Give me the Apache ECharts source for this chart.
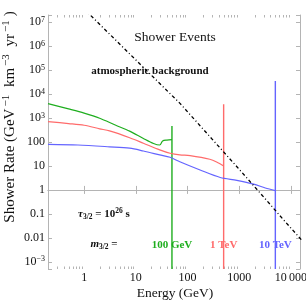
<!DOCTYPE html>
<html><head><meta charset="utf-8">
<script src="https://cdn.jsdelivr.net/npm/echarts@6/dist/echarts.min.js"></script>
<style>html,body{margin:0;padding:0;background:#fff}#c{width:306px;height:303px}</style>
</head><body><div id="c"></div>
<script>
// ---- data ----
const energyGreen = [0.2, 0.5, 1, 2, 4, 7.6, 14, 22, 29, 33, 40, 50];
const rateGreen   = [4000, 2400, 1600, 980, 510, 285, 141, 87, 75, 110, 120, 125];
const energyRed = [0.2, 0.5, 1, 2, 3.1, 7.6, 14, 29, 46, 71, 112, 270, 380, 500];
const rateRed   = [710, 590, 500, 355, 290, 151, 89, 47, 34, 29, 27, 19, 14, 10];
const energyBlue = [0.2, 0.76, 3.1, 7.6, 14, 29, 46, 71, 175, 430, 900, 1900, 3200, 5000];
const rateBlue   = [80, 75, 63, 55, 42, 29, 23, 15, 6.8, 3.3, 2.5, 1.74, 1.2, 0.93];
const energyBg = [1, 1.28, 9.6, 71.5, 902, 3990, 6760, 18200];
const rateBg   = [3.6e7, 2.1e7, 2.9e5, 4100, 9.3, 0.245, 0.066, 0.006];
const cutoffEnergies = [50, 500, 5000];
const cutoffTops = [470, 3800, 35000];
const cutoffColors = ['#1fae1f', '#ff6b6b', '#6464ff'];
const massLabels = ['100 GeV', '1 TeV', '10 TeV'];
const xTickValues = [1, 10, 100, 1000, 10000];
const xTickLabels = ['1', '10', '100', '1000', '10\u2009000'];
const yTickValues = [1e-3, 0.01, 0.1, 1, 10, 100, 1e3, 1e4, 1e5, 1e6, 1e7];
const yTickLabels = ['10{sup|\u22123}', '0.01', '0.1', '1', '10', '100', '10{sup|3}', '10{sup|4}', '10{sup|5}', '10{sup|6}', '10{sup|7}'];
const xRange = [0.2, 15000];
const yRange = [5e-4, 2e7];

const FONT = 'Liberation Serif';
const FRAME = '#b4b4b4';

function lookup(vals, labels, v) {
  const lv = Math.log10(v);
  for (let i = 0; i < vals.length; i++) if (Math.abs(Math.log10(vals[i]) - lv) < 1e-6) return labels[i];
  return '';
}
// y values are placed on a decade (log10) value axis
const ly = v => Math.log10(v);
const zip = (a, b) => a.map((v, i) => [v, ly(b[i])]);

const chart = echarts.init(document.getElementById('c'), null, {renderer: 'canvas'});

const minorX = [];
for (let k = -1; k <= 4; k++) for (let m = 2; m <= 9; m++) {
  const v = m * Math.pow(10, k);
  if (v > xRange[0] && v < xRange[1]) minorX.push([v, 0]);
}

const baseX = {
  type: 'log', logBase: 10, min: xRange[0], max: xRange[1], splitNumber: 5,
  axisLine: {show: true, lineStyle: {color: FRAME, width: 1}},
  axisTick: {show: true, inside: true, length: 4, lineStyle: {color: FRAME}},
  splitLine: {show: false}, minorTick: {show: false}
};
const baseY = {
  type: 'value', min: ly(yRange[0]), max: ly(yRange[1]), splitNumber: 10,
  axisLine: {show: true, lineStyle: {color: FRAME, width: 1}},
  axisTick: {show: true, inside: true, length: 4, lineStyle: {color: FRAME}},
  splitLine: {show: false}, minorTick: {show: false}
};

const series = [];
cutoffEnergies.forEach((e, i) => {
  series.push({
    type: 'line', xAxisIndex: 0, yAxisIndex: 0, showSymbol: false, silent: true,
    data: [[e, ly(yRange[0])], [e, ly(cutoffTops[i])]],
    lineStyle: {color: cutoffColors[i], width: 1.4}
  });
});
[[energyGreen, rateGreen, cutoffColors[0]], [energyRed, rateRed, cutoffColors[1]], [energyBlue, rateBlue, cutoffColors[2]]]
  .forEach(([e, r, c]) => series.push({
    type: 'line', xAxisIndex: 0, yAxisIndex: 0, showSymbol: false, silent: true, smooth: 0.3,
    data: zip(e, r), lineStyle: {color: c, width: 1.2}
  }));
series.push({
  type: 'line', xAxisIndex: 0, yAxisIndex: 0, showSymbol: false, silent: true, clip: true,
  data: zip(energyBg, rateBg),
  lineStyle: {color: '#000', width: 1.3, type: [3.5, 2.5, 1, 2.5]}
});
series.push({
  type: 'custom', xAxisIndex: 0, yAxisIndex: 0, silent: true, data: minorX,
  renderItem(params, api) {
    const cs = params.coordSys;
    const x = Math.round(api.coord([api.value(0), 0])[0]) + 0.5;
    const b = cs.y + cs.height, t = cs.y;
    return {type: 'group', children: [
      {type: 'line', shape: {x1: x, y1: b, x2: x, y2: b - 2.5}, style: {stroke: FRAME, lineWidth: 1}},
      {type: 'line', shape: {x1: x, y1: t, x2: x, y2: t + 2.5}, style: {stroke: FRAME, lineWidth: 1}}
    ]};
  }
});

chart.setOption({
  animation: false,
  backgroundColor: '#fff',
  textStyle: {fontFamily: FONT},
  grid: {left: 48, right: 6, top: 15, bottom: 34, containLabel: false, outerBoundsMode: 'none'},
  xAxis: [
    Object.assign({}, baseX, {position: 'bottom',
      axisLabel: {show: true, margin: 3, color: '#111', fontFamily: FONT, fontSize: 12,
        formatter: v => lookup(xTickValues, xTickLabels, v)}}),
    Object.assign({}, baseX, {position: 'top', axisLabel: {show: false}})
  ],
  yAxis: [
    Object.assign({}, baseY, {position: 'left',
      axisLabel: {show: true, margin: 3, color: '#111', fontFamily: FONT, fontSize: 12,
        formatter: v => lookup(yTickValues, yTickLabels, Math.pow(10, v)),
        rich: {sup: {fontSize: 8, verticalAlign: 'top', fontFamily: FONT, color: '#111', padding: [0, 0, 5, 0]}}}}),
    Object.assign({}, baseY, {position: 'right', axisLabel: {show: false}})
  ],
  series: series
});

const xs = cutoffEnergies.map(e => chart.convertToPixel({xAxisIndex: 0}, e));
const graphics = [
  {type: 'text', x: 175, y: 37, style: {text: 'Shower Events', font: '13.5px "Liberation Serif"', fill: '#111', align: 'center', verticalAlign: 'middle'}},
  {type: 'text', x: 150, y: 71, style: {text: 'atmospheric background', font: 'bold 11px "Liberation Serif"', fill: '#111', align: 'center', verticalAlign: 'middle'}},
  {type: 'text', x: 104, y: 214, style: {
    text: '{it|\u03c4}{sub|3/2}{b| = 10}{sup|26}{b| s}', align: 'center', verticalAlign: 'middle',
    rich: {
      it: {font: 'italic bold 11px "Liberation Serif"', fill: '#111', verticalAlign: 'middle', lineHeight: 12},
      b: {font: 'bold 11px "Liberation Serif"', fill: '#111', verticalAlign: 'middle', lineHeight: 12},
      sub: {font: 'bold 7.5px "Liberation Serif"', fill: '#111', verticalAlign: 'bottom', padding: [6, 0, 0, 0]},
      sup: {font: 'bold 7.5px "Liberation Serif"', fill: '#111', verticalAlign: 'top', padding: [0, 0, 6, 0]}
    }}},
  {type: 'text', x: 104, y: 244, style: {
    text: '{it|m}{sub|3/2}{b| =}', align: 'center', verticalAlign: 'middle',
    rich: {
      it: {font: 'italic bold 11px "Liberation Serif"', fill: '#111', verticalAlign: 'middle', lineHeight: 12},
      b: {font: 'bold 11px "Liberation Serif"', fill: '#111', verticalAlign: 'middle', lineHeight: 12},
      sub: {font: 'bold 7.5px "Liberation Serif"', fill: '#111', verticalAlign: 'bottom', padding: [6, 0, 0, 0]}
    }}},
  {type: 'text', x: 175, y: 293, style: {text: 'Energy (GeV)', font: '13.5px "Liberation Serif"', fill: '#111', align: 'center', verticalAlign: 'middle'}},
  {type: 'text', x: 10, y: 117, rotation: Math.PI / 2, style: {
    text: '{n|Shower Rate (GeV}{s|\u22121}{n| km}{s|\u22123}{n| yr}{s|\u22121}{n|)}', align: 'center', verticalAlign: 'middle',
    rich: {
      n: {font: '15px "Liberation Serif"', fill: '#111', verticalAlign: 'middle', lineHeight: 17},
      s: {font: '11px "Liberation Serif"', fill: '#111', verticalAlign: 'top', padding: [0, 4, 7, 2]}
    }}}
];
massLabels.forEach((t, i) => graphics.push({
  type: 'text', x: xs[i], y: 245,
  style: {text: t, font: 'bold 11px "Liberation Serif"', fill: cutoffColors[i], align: 'center', verticalAlign: 'middle'}
}));
chart.setOption({graphic: graphics});
</script>
</body></html>
